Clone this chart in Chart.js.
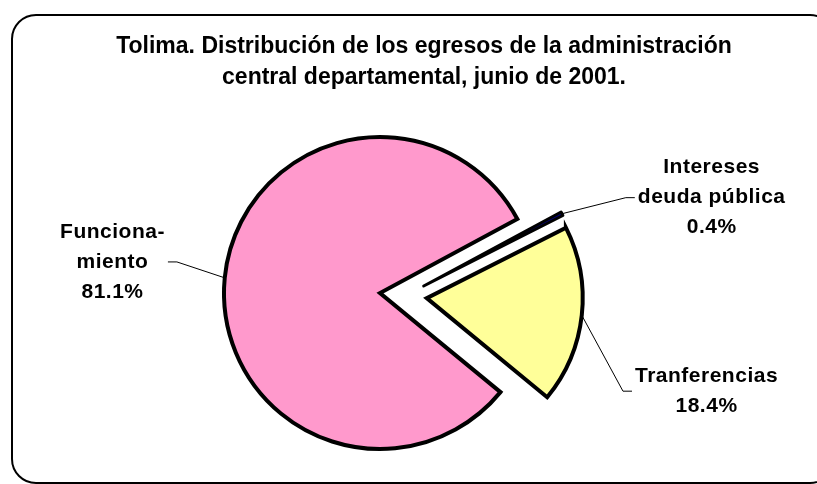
<!DOCTYPE html>
<html><head><meta charset="utf-8">
<script src="https://cdn.jsdelivr.net/npm/chart.js@4"></script>
<style>html,body{margin:0;padding:0;background:#fff}canvas{display:block}</style>
</head><body>
<canvas id="c" width="817" height="484"></canvas>
<script>
// ---- data ----
const categories = ['Intereses deuda pública', 'Tranferencias', 'Funcionamiento'];
const shares = [0.4, 18.4, 81.1];
const labelLines = [['Intereses', 'deuda pública'], ['Tranferencias'], ['Funciona-', 'miento']];
const titleLines = ['Tolima. Distribución de los egresos de la administración', 'central departamental, junio de 2001.'];

// ---- style ----
const sliceColors = ['#000080', '#FFFF99', '#FF99CC'];
const sliceBorderWidths = [3, 4, 4];
const sliceJoins = ['round', 'miter', 'miter'];
// explosion of each slice (px): along its bisector, and across it
const explode = [{along: 42, across: 14}, {along: 47, across: 0}, {along: 0, across: 0}];
const labelPlacement = [
  {angle: -21.2, dist: 1.69},
  {angle: 22.0, dist: 1.68},
  {angle: 188.7, dist: 1.317}
];
const FONT = '"Liberation Sans", Arial, sans-serif';

const explodePlugin = {
  id: 'explode',
  afterDatasetUpdate(chart, args) {
    const meta = chart.getDatasetMeta(args.index);
    meta.data.forEach((el, i) => {
      const e = explode[i];
      if (!e) return;
      const mid = (el.startAngle + el.endAngle) / 2;
      el.x += Math.cos(mid) * e.along - Math.sin(mid) * e.across;
      el.y += Math.sin(mid) * e.along + Math.cos(mid) * e.across;
    });
  }
};

const decor = {
  id: 'decor',
  beforeDraw(chart) {
    const ctx = chart.ctx;
    ctx.save();
    ctx.fillStyle = '#fff';
    ctx.fillRect(0, 0, chart.width, chart.height);
    ctx.lineWidth = 2;
    ctx.strokeStyle = '#000';
    ctx.beginPath();
    ctx.roundRect(12, 15, 822, 468, 24);
    ctx.stroke();
    ctx.restore();
  },
  afterDatasetsDraw(chart) {
    const ctx = chart.ctx;
    const meta = chart.getDatasetMeta(0);
    const ca = chart.chartArea;
    const cx0 = (ca.left + ca.right) / 2, cy0 = (ca.top + ca.bottom) / 2;
    ctx.save();
    ctx.fillStyle = '#000';
    ctx.textBaseline = 'middle';
    ctx.textAlign = 'center';
    ctx.font = 'bold 23px ' + FONT;
    titleLines.forEach((t, k) => ctx.fillText(t, 424, 47 + k * 31));

    meta.data.forEach((el, i) => {
      const mid = (el.startAngle + el.endAngle) / 2;
      const R = el.outerRadius;
      const ax = el.x + Math.cos(mid) * R;
      const ay = el.y + Math.sin(mid) * R;
      const pl = labelPlacement[i];
      const a = pl.angle * Math.PI / 180;
      const ex = cx0 + Math.cos(a) * pl.dist * R;
      const ey = cy0 + Math.sin(a) * pl.dist * R;
      const dir = ex >= cx0 ? 1 : -1;
      const sx = ex + dir * 9;
      ctx.strokeStyle = '#000';
      ctx.lineWidth = 1;
      ctx.beginPath();
      ctx.moveTo(ax, ay);
      ctx.lineTo(ex, ey);
      ctx.lineTo(sx, ey);
      ctx.stroke();

      const lines = labelLines[i].concat(shares[i].toFixed(1) + '%');
      ctx.font = 'bold 21px ' + FONT;
      if ('letterSpacing' in ctx) ctx.letterSpacing = '0.5px';
      const bw = Math.max(...lines.map(s => ctx.measureText(s).width));
      const cx = sx + dir * (3 + bw / 2);
      const y0 = ey - (lines.length - 1) / 2 * 30;
      lines.forEach((s, k) => ctx.fillText(s, cx, y0 + k * 30));
      if ('letterSpacing' in ctx) ctx.letterSpacing = '0px';
    });
    ctx.restore();
  }
};

new Chart(document.getElementById('c'), {
  type: 'pie',
  data: {
    labels: categories,
    datasets: [{
      data: shares,
      backgroundColor: sliceColors,
      borderColor: '#000',
      borderWidth: sliceBorderWidths,
      borderJoinStyle: sliceJoins,
      offset: 0
    }]
  },
  options: {
    responsive: false,
    animation: false,
    events: [],
    rotation: 61.7,
    radius: 156,
    layout: {padding: {left: 0, right: 57, top: 102, bottom: 0}},
    plugins: {legend: {display: false}, title: {display: false}, tooltip: {enabled: false}}
  },
  plugins: [explodePlugin, decor]
});
</script>
</body></html>
